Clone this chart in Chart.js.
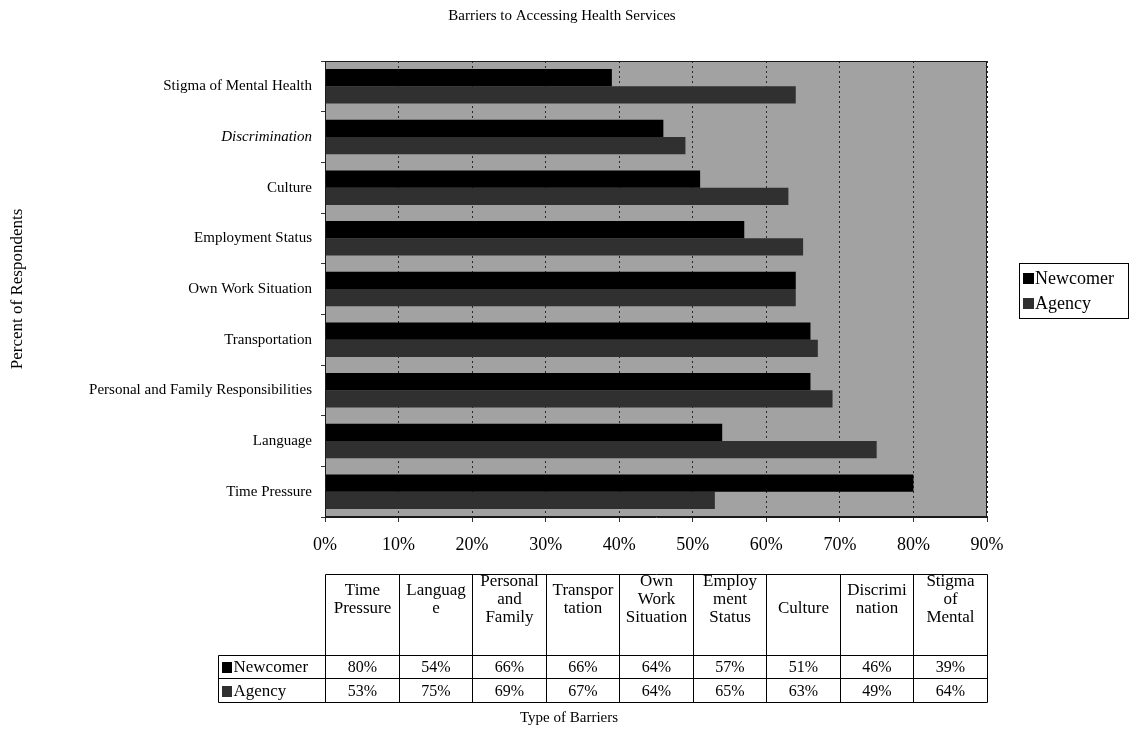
<!DOCTYPE html>
<html>
<head>
<meta charset="utf-8">
<script src="https://cdn.jsdelivr.net/npm/chart.js@4.4.0/dist/chart.umd.min.js"></script>
<style>
  html, body { margin: 0; padding: 0; background: #ffffff; }
  #wrap { position: relative; width: 1134px; height: 742px; }
</style>
</head>
<body>
<div id="wrap"><canvas id="c" width="1134" height="742"></canvas></div>
<script>
// ---- data ----
const chartTitle = 'Barriers to Accessing Health Services';
const categories = [
  'Time Pressure', 'Language', 'Personal and Family Responsibilities', 'Transportation',
  'Own Work Situation', 'Employment Status', 'Culture', 'Discrimination', 'Stigma of Mental Health'
];
const columnHeaders = [
  ['Time', 'Pressure'], ['Languag', 'e'], ['Personal', 'and', 'Family'], ['Transpor', 'tation'],
  ['Own', 'Work', 'Situation'], ['Employ', 'ment', 'Status'], ['Culture'], ['Discrimi', 'nation'],
  ['Stigma', 'of', 'Mental']
];
const newcomer = [80, 54, 66, 66, 64, 57, 51, 46, 39];
const agency   = [53, 75, 69, 67, 64, 65, 63, 49, 64];
const seriesNames = ['Newcomer', 'Agency'];
const xTickValues = [0, 10, 20, 30, 40, 50, 60, 70, 80, 90];
const yAxisTitle = 'Percent of Respondents';
const tableTitle = 'Type of Barriers';

// ---- styling ----
const SERIF = "'Liberation Serif', 'Times New Roman', serif";
const seriesColors = ['#000000', '#303030'];
const plotFill = '#a2a2a2';

// Grey plot background behind bars
const plotBackground = {
  id: 'plotBackground',
  beforeDraw(chart) {
    const { ctx, chartArea: a } = chart;
    ctx.save();
    ctx.fillStyle = plotFill;
    ctx.fillRect(a.left, a.top, a.right - a.left, a.bottom - a.top);
    ctx.restore();
  }
};

// Frame, title, boxed legend and the data table under the axis
const decorations = {
  id: 'decorations',
  afterDraw(chart) {
    const { ctx, chartArea: a } = chart;
    const x = chart.scales.x;
    ctx.save();

    // plot frame
    ctx.strokeStyle = '#1a1a1a';
    ctx.lineWidth = 1;
    ctx.strokeRect(a.left + 0.5, a.top + 0.5, a.right - a.left - 1, a.bottom - a.top - 1);

    // title
    ctx.fillStyle = '#000';
    ctx.font = '15px ' + SERIF;
    ctx.textAlign = 'center';
    ctx.textBaseline = 'middle';
    ctx.fillText(chartTitle, 562, 16);

    // legend
    const lg = { left: 1019, top: 263, right: 1128, bottom: 318 };
    ctx.strokeStyle = '#000';
    ctx.strokeRect(lg.left + 0.5, lg.top + 0.5, lg.right - lg.left, lg.bottom - lg.top);
    ctx.font = '18px ' + SERIF;
    ctx.textAlign = 'left';
    const legendRows = [278, 303];
    chart.data.datasets.forEach((ds, i) => {
      ctx.fillStyle = ds.backgroundColor;
      ctx.fillRect(lg.left + 4, legendRows[i] - 5, 11, 11);
      ctx.fillStyle = '#000';
      ctx.fillText(ds.label, lg.left + 16, legendRows[i] + 1);
    });

    // data table, columns follow the x scale's 10% steps
    const edges = xTickValues.map(v => Math.round(x.getPixelForValue(v)) + 0.5);
    const tableLeft = 218.5;
    const rowsY = [574.5, 655.5, 678.5, 702.5];
    const right = edges[edges.length - 1];
    ctx.strokeStyle = '#000';
    ctx.beginPath();
    ctx.moveTo(edges[0], rowsY[0]); ctx.lineTo(right, rowsY[0]);
    ctx.moveTo(tableLeft, rowsY[1]); ctx.lineTo(right, rowsY[1]);
    ctx.moveTo(tableLeft, rowsY[2]); ctx.lineTo(right, rowsY[2]);
    ctx.moveTo(tableLeft, rowsY[3]); ctx.lineTo(right, rowsY[3]);
    edges.forEach(ex => { ctx.moveTo(ex, rowsY[0]); ctx.lineTo(ex, rowsY[3]); });
    ctx.moveTo(tableLeft, rowsY[1]); ctx.lineTo(tableLeft, rowsY[3]);
    ctx.stroke();

    // header cells: wrapped lines on an 18px grid, single lines sit on the lower slot
    ctx.font = '17px ' + SERIF;
    ctx.fillStyle = '#000';
    ctx.textAlign = 'center';
    const lineH = 18;
    const headCenter = 600;
    columnHeaders.forEach((lines, i) => {
      const cx = (edges[i] + edges[i + 1]) / 2;
      const n = Math.max(lines.length, 2);
      const y0 = headCenter - (n - 1) * lineH / 2 + (lines.length === 1 ? lineH : 0);
      lines.forEach((t, k) => ctx.fillText(t, cx, y0 + k * lineH));
    });

    const seriesValues = [newcomer, agency];
    const rowCenters = [667, 691];
    chart.data.datasets.forEach((ds, r) => {
      ctx.fillStyle = ds.backgroundColor;
      ctx.fillRect(tableLeft + 3.5, rowCenters[r] - 5, 10, 11);
      ctx.fillStyle = '#000';
      ctx.textAlign = 'left';
      ctx.font = '17px ' + SERIF;
      ctx.fillText(ds.label, tableLeft + 15, rowCenters[r] + 1);
      ctx.textAlign = 'center';
      ctx.font = '16px ' + SERIF;
      seriesValues[r].forEach((v, i) => {
        ctx.fillText(v + '%', (edges[i] + edges[i + 1]) / 2, rowCenters[r] + 1);
      });
    });

    ctx.font = '15px ' + SERIF;
    ctx.fillText(tableTitle, 569, 718);
    ctx.restore();
  }
};

new Chart(document.getElementById('c'), {
  type: 'bar',
  data: {
    labels: categories,
    datasets: [
      { label: seriesNames[0], data: newcomer, backgroundColor: seriesColors[0], borderWidth: 0 },
      { label: seriesNames[1], data: agency, backgroundColor: seriesColors[1], borderWidth: 0 }
    ]
  },
  options: {
    indexAxis: 'y',
    responsive: false,
    animation: false,
    devicePixelRatio: 1,
    categoryPercentage: 0.68,
    barPercentage: 1.0,
    layout: { padding: { top: 61, right: 147, bottom: 185, left: 0 } },
    plugins: {
      legend: { display: false },
      title: { display: false },
      tooltip: { enabled: false }
    },
    scales: {
      x: {
        type: 'linear',
        min: 0,
        max: 90,
        afterFit(scale) { scale.height = 40; },
        afterBuildTicks(scale) { scale.ticks = xTickValues.map(v => ({ value: v })); },
        ticks: {
          callback: v => v + '%',
          color: '#000',
          padding: 12,
          maxRotation: 0,
          font: { family: SERIF, size: 18 }
        },
        grid: {
          color: '#2a2a2a',
          lineWidth: 1,
          drawTicks: true,
          tickLength: 5,
          tickColor: '#333'
        },
        border: { display: true, color: '#1a1a1a', dash: [2, 3] }
      },
      y: {
        type: 'category',
        reverse: true,
        afterFit(scale) { scale.width = 325; },
        ticks: {
          color: '#000',
          padding: 9,
          autoSkip: false,
          font: ctx => ({
            family: SERIF,
            size: 15,
            style: categories[ctx.index] === 'Discrimination' ? 'italic' : 'normal'
          })
        },
        grid: {
          drawOnChartArea: false,
          drawTicks: true,
          tickLength: 4,
          tickColor: '#333'
        },
        border: { display: true, color: '#1a1a1a' },
        title: {
          display: true,
          text: yAxisTitle,
          color: '#000',
          padding: { top: 7, bottom: 0 },
          font: { family: SERIF, size: 17 }
        }
      }
    }
  },
  plugins: [plotBackground, decorations]
});
</script>
</body>
</html>
